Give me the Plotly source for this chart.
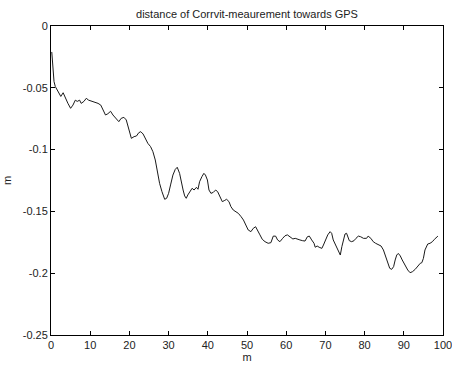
import plotly.graph_objects as go

# Distance along track (m) and offset of the Corrvit measurement from GPS (m)
dist_m = [
    0.2, 0.26, 0.34, 0.77, 1.1, 1.8, 2.5, 3.1, 3.7, 4.3, 5.0, 5.6, 6.2, 6.7, 7.3, 7.7,
    8.4, 9.0, 9.6, 10.3, 11.1, 12.0, 12.7, 13.3, 13.9, 14.5, 15.2, 15.8, 16.2, 16.8,
    17.3, 17.9, 18.6, 19.2, 19.6, 20.1, 20.5, 21.2, 21.8, 22.4, 22.9, 23.5, 24.1, 24.7,
    25.4, 26.0, 26.6, 27.1, 27.7, 28.3, 29.0, 29.5, 30.0, 30.5, 31.1, 31.7, 32.2, 32.8,
    33.2, 33.7, 34.1, 34.5, 34.9, 35.5, 36.0, 36.5, 37.1, 37.5, 37.9, 38.5, 39.0, 39.4,
    39.9, 40.3, 40.8, 41.4, 42.0, 42.5, 43.1, 43.7, 44.2, 44.8, 45.4, 45.9, 46.5, 47.1,
    47.8, 48.5, 49.1, 49.7, 50.3, 51.0, 51.6, 52.2, 52.7, 53.3, 53.9, 54.6, 55.4, 56.1,
    56.7, 57.3, 57.8, 58.4, 59.1, 59.7, 60.3, 61.0, 61.7, 62.3, 62.8, 63.5, 64.2, 64.8,
    65.4, 65.9, 66.5, 67.1, 67.4, 67.9, 68.4, 69.1, 69.5, 70.1, 70.6, 71.2, 71.6, 72.0,
    72.6, 73.1, 73.5, 73.8, 74.2, 74.6, 75.0, 75.4, 75.8, 76.1, 76.7, 77.3, 77.8, 78.4,
    79.0, 79.7, 80.5, 80.9, 81.6, 82.2, 82.8, 83.5, 84.2, 84.8, 85.4, 85.9, 86.4, 86.9,
    87.4, 87.8, 88.2, 88.6, 89.1, 89.6, 90.3, 91.0, 91.6, 92.2, 92.9, 93.6, 94.2, 94.6,
    95.0, 95.4, 96.1, 96.7, 97.3, 97.8, 98.4, 98.7,
]
offset_m = [
    -0.021, -0.0235, -0.033, -0.045, -0.049, -0.053, -0.057, -0.054, -0.0585, -0.0625,
    -0.0666, -0.064, -0.060, -0.061, -0.060, -0.0626, -0.061, -0.0585, -0.060, -0.0607,
    -0.0618, -0.0626, -0.064, -0.068, -0.072, -0.071, -0.069, -0.072, -0.0734, -0.076,
    -0.0774, -0.0747, -0.0739, -0.076, -0.0800, -0.0868, -0.0909, -0.0895, -0.089,
    -0.0863, -0.0855, -0.0874, -0.0909, -0.0949, -0.0976, -0.1017, -0.1084, -0.118,
    -0.1273, -0.134, -0.1402, -0.1394, -0.1354, -0.1286, -0.1206, -0.116, -0.1143,
    -0.1192, -0.126, -0.1327, -0.1375, -0.1394, -0.1367, -0.134, -0.1313, -0.1327,
    -0.1305, -0.1321, -0.126, -0.1219, -0.1192, -0.1206, -0.1246, -0.1327, -0.1354,
    -0.1346, -0.1327, -0.134, -0.138, -0.1421, -0.1413, -0.1402, -0.1421, -0.1462,
    -0.1489, -0.1502, -0.1516, -0.1543, -0.157, -0.161, -0.165, -0.1664, -0.1637,
    -0.1624, -0.165, -0.169, -0.1726, -0.1745, -0.1758, -0.1753, -0.170, -0.170,
    -0.1731, -0.1745, -0.1718, -0.1697, -0.169, -0.171, -0.1723, -0.1718, -0.1726,
    -0.1731, -0.1737, -0.174, -0.1705, -0.170, -0.1731, -0.1758, -0.179, -0.178,
    -0.179, -0.1799, -0.1772, -0.1731, -0.169, -0.1664, -0.1677, -0.1731, -0.1772,
    -0.1799, -0.1826, -0.1853, -0.1785, -0.1731, -0.1683, -0.1677, -0.1705, -0.1737,
    -0.1745, -0.1737, -0.1718, -0.170, -0.1705, -0.1718, -0.1718, -0.170, -0.1718,
    -0.1745, -0.1758, -0.1772, -0.178, -0.1812, -0.1866, -0.192, -0.196, -0.1969,
    -0.1947, -0.1893, -0.1853, -0.184, -0.186, -0.1893, -0.1934, -0.1974, -0.1996,
    -0.1988, -0.1969, -0.1942, -0.192, -0.1915, -0.188, -0.1812, -0.1764, -0.1758,
    -0.1745, -0.1726, -0.1705, -0.170,
]

x_ticks = [0, 10, 20, 30, 40, 50, 60, 70, 80, 90, 100]
y_ticks = [0, -0.05, -0.1, -0.15, -0.2, -0.25]
y_tick_text = ["0", "-0.05", "-0.1", "-0.15", "-0.2", "-0.25"]

font = dict(family="Liberation Sans, Arial, sans-serif", size=11, color="#222222")

fig = go.Figure()
fig.add_trace(go.Scatter(
    x=dist_m, y=offset_m, mode="lines",
    line=dict(color="#1a1a1a", width=1),
    showlegend=False,
))

axis_common = dict(
    showgrid=False, zeroline=False, automargin=False,
    showline=True, linecolor="black", linewidth=1, mirror="ticks",
    ticks="inside", ticklen=4, tickcolor="black", tickwidth=1,
    tickfont=font, ticklabeloverflow="allow",
)

fig.update_layout(
    width=452, height=365,
    margin=dict(l=51, r=9, t=26, b=30),
    paper_bgcolor="white", plot_bgcolor="white",
    font=font,
    title=dict(text="distance of Corrvit-meaurement towards GPS",
               x=0.5, xref="paper", xanchor="center",
               y=1, yref="container", yanchor="top", pad=dict(t=10),
               font=font),
    xaxis=dict(range=[0, 100], tickvals=x_ticks,
               title=dict(text="m", font=font, standoff=2), **axis_common),
    yaxis=dict(range=[-0.25, 0], tickvals=y_ticks, ticktext=y_tick_text,
               title=dict(text="m", font=font, standoff=8), **axis_common),
)

fig.write_html("out.html")
